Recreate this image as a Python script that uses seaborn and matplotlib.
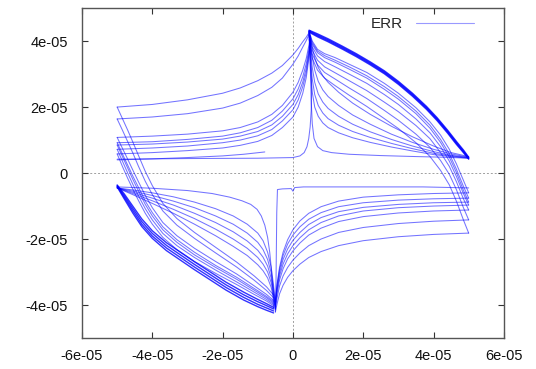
import numpy as np
import pandas as pd
import matplotlib
matplotlib.use("Agg")
import matplotlib.pyplot as plt
from matplotlib.lines import Line2D
import seaborn as sns

# All values are in units of 1e-5
UNIT = 1e-5

# --- rising branches from the left turning point up to the positive peak
R_X = [-5.0, -4.0, -3.0, -2.0, -1.5, -1.0, -0.6, -0.3, 0.0, 0.15, 0.28, 0.38, 0.45, 0.5]
R1 = [2.00, 2.08, 2.22, 2.42, 2.58, 2.80, 3.03, 3.26, 3.58, 3.78, 3.98, 4.12, 4.24, 4.32]
R2 = [1.64, 1.70, 1.80, 1.97, 2.12, 2.35, 2.60, 2.88, 3.30, 3.55, 3.82, 4.02, 4.18, 4.28]
R3 = [1.08, 1.12, 1.18, 1.28, 1.38, 1.55, 1.78, 2.05, 2.45, 2.75, 3.12, 3.48, 3.85, 4.15]
R4 = [0.92, 0.95, 1.02, 1.12, 1.22, 1.38, 1.60, 1.88, 2.25, 2.55, 2.92, 3.32, 3.72, 4.08]
R5 = [0.85, 0.88, 0.94, 1.03, 1.12, 1.26, 1.46, 1.72, 2.08, 2.38, 2.76, 3.18, 3.62, 4.02]
R6 = [0.72, 0.76, 0.82, 0.92, 1.00, 1.13, 1.32, 1.58, 1.92, 2.22, 2.62, 3.05, 3.55, 3.98]
R7 = [0.58, 0.62, 0.68, 0.76, 0.84, 0.96, 1.14, 1.38, 1.70, 2.00, 2.42, 2.90, 3.45, 3.92]

# last, unfinished sweep
P_X = [-5.0, -4.0, -3.0, -2.0, -1.4, -0.8]
P_Y = [0.40, 0.43, 0.47, 0.52, 0.57, 0.64]

# first sweep: flat run then sharp rise to the peak
SU_X = [-5.0, -3.0, -1.0, 0.0, 0.2, 0.32, 0.40, 0.45, 0.49, 0.52, 0.53, 0.52, 0.50, 0.47]
SU_Y = [0.42, 0.44, 0.45, 0.47, 0.52, 0.62, 0.80, 1.05, 1.40, 1.90, 2.50, 3.10, 3.70, 4.30]

# --- drops at the left turning point running into the lower-left lobe
D_X = [-5.0, -4.85, -4.7, -4.55, -4.4, -4.2, -4.0, -3.7, -3.3, -2.8, -2.2, -1.6, -1.1, -0.75, -0.55]
D1 = [2.00, 1.65, 1.30, 0.93, 0.55, 0.05, -0.38, -0.92, -1.38, -1.80, -2.25, -2.70, -3.12, -3.45, -3.70]
D2 = [1.64, 1.30, 0.95, 0.60, 0.22, -0.25, -0.65, -1.15, -1.58, -1.98, -2.42, -2.85, -3.25, -3.56, -3.78]
D3 = [1.08, 0.75, 0.42, 0.08, -0.25, -0.68, -1.05, -1.50, -1.90, -2.28, -2.68, -3.06, -3.42, -3.68, -3.86]
D4 = [0.92, 0.58, 0.24, -0.10, -0.42, -0.85, -1.20, -1.63, -2.02, -2.40, -2.80, -3.16, -3.50, -3.74, -3.90]
D5 = [0.85, 0.50, 0.15, -0.20, -0.53, -0.95, -1.30, -1.72, -2.10, -2.48, -2.86, -3.22, -3.55, -3.78, -3.94]
D6 = [0.72, 0.36, 0.00, -0.35, -0.68, -1.08, -1.42, -1.83, -2.20, -2.56, -2.94, -3.30, -3.61, -3.83, -3.98]
D7 = [0.58, 0.20, -0.16, -0.50, -0.82, -1.22, -1.55, -1.95, -2.32, -2.68, -3.04, -3.38, -3.68, -3.88, -4.02]

# --- lower-left lobe: outer envelope (a narrow band of passes)
LL_EDGE_X = [-5.0, -4.8, -4.55, -4.3, -4.0, -3.6, -3.2, -2.8, -2.35, -1.9, -1.4, -1.0, -0.75, -0.55]
LL_EDGE_1 = [-0.42, -0.78, -1.22, -1.62, -1.98, -2.35, -2.64, -2.93, -3.24, -3.55, -3.85, -4.05, -4.16, -4.24]
LL_EDGE_2 = [-0.40, -0.73, -1.15, -1.55, -1.91, -2.27, -2.56, -2.85, -3.16, -3.47, -3.77, -3.98, -4.09, -4.18]
LL_EDGE_3 = [-0.38, -0.68, -1.08, -1.47, -1.83, -2.19, -2.48, -2.77, -3.08, -3.39, -3.69, -3.90, -4.02, -4.12]
LL_EDGE_4 = [-0.36, -0.63, -1.01, -1.39, -1.75, -2.11, -2.40, -2.69, -3.00, -3.31, -3.61, -3.83, -3.96, -4.07]

# --- lower-left lobe: inner return curves
L2_X = [-5.0, -4.5, -4.0, -3.4, -2.8, -2.2, -1.7, -1.3, -1.0, -0.85, -0.72, -0.62, -0.55, -0.5]
L2A = [-0.45, -0.52, -0.60, -0.72, -0.88, -1.08, -1.30, -1.55, -1.82, -2.05, -2.40, -2.85, -3.40, -4.00]
L2B = [-0.45, -0.56, -0.68, -0.85, -1.05, -1.30, -1.55, -1.82, -2.10, -2.32, -2.62, -3.02, -3.50, -4.05]
L2C = [-0.45, -0.60, -0.76, -0.97, -1.22, -1.50, -1.78, -2.06, -2.34, -2.55, -2.82, -3.18, -3.60, -4.10]
L2D = [-0.45, -0.64, -0.84, -1.10, -1.38, -1.70, -2.00, -2.28, -2.56, -2.76, -3.00, -3.32, -3.70, -4.12]
L2E = [-0.45, -0.68, -0.92, -1.22, -1.55, -1.90, -2.22, -2.50, -2.78, -2.96, -3.18, -3.46, -3.80, -4.15]
LS_X = [-5.0, -4.0, -3.0, -2.3, -1.8, -1.45, -1.2, -1.02, -0.9, -0.8, -0.72, -0.66, -0.61, -0.57, -0.55]
LS_Y = [-0.42, -0.46, -0.53, -0.62, -0.73, -0.84, -0.95, -1.10, -1.30, -1.58, -1.95, -2.40, -2.95, -3.55, -4.10]

# --- upper-right lobe: outer envelope (several nearly coincident passes)
UR_EDGE_X = [0.46, 0.7, 1.0, 1.4, 1.8, 2.2, 2.6, 3.0, 3.4, 3.8, 4.1, 4.4, 4.65, 4.85, 5.0]
UR_EDGE_1 = [4.33, 4.22, 4.07, 3.85, 3.62, 3.37, 3.10, 2.78, 2.42, 2.02, 1.68, 1.30, 0.96, 0.70, 0.48]
UR_EDGE_2 = [4.31, 4.19, 4.04, 3.82, 3.59, 3.34, 3.07, 2.75, 2.39, 1.99, 1.65, 1.27, 0.93, 0.67, 0.46]
UR_EDGE_3 = [4.29, 4.16, 4.01, 3.79, 3.56, 3.31, 3.04, 2.72, 2.36, 1.96, 1.62, 1.24, 0.90, 0.64, 0.44]
UR_EDGE_4 = [4.27, 4.13, 3.98, 3.76, 3.53, 3.28, 3.01, 2.69, 2.33, 1.93, 1.59, 1.21, 0.87, 0.62, 0.42]

# --- upper-right lobe: branches that fall through the right turning point
I_X = [0.46, 0.55, 0.7, 0.9, 1.2, 1.6, 2.1, 2.6, 3.0, 3.5, 3.9, 4.2, 4.45, 4.65, 4.85, 5.0]
I1 = [4.30, 4.00, 3.75, 3.62, 3.50, 3.30, 3.05, 2.72, 2.42, 1.98, 1.55, 1.15, 0.72, 0.28, -0.22, -0.60]
I2 = [4.28, 3.95, 3.70, 3.56, 3.42, 3.22, 2.95, 2.62, 2.32, 1.88, 1.45, 1.02, 0.58, 0.12, -0.40, -0.76]
I3 = [4.26, 3.90, 3.65, 3.50, 3.36, 3.15, 2.88, 2.54, 2.24, 1.80, 1.36, 0.93, 0.48, 0.02, -0.52, -0.88]
I4 = [4.22, 3.82, 3.55, 3.38, 3.22, 3.00, 2.72, 2.38, 2.08, 1.64, 1.22, 0.80, 0.36, -0.10, -0.62, -0.97]
I5 = [4.18, 3.72, 3.42, 3.22, 3.04, 2.80, 2.50, 2.15, 1.86, 1.44, 1.04, 0.62, 0.20, -0.26, -0.78, -1.12]
I6 = [4.12, 3.60, 3.28, 3.05, 2.85, 2.58, 2.26, 1.90, 1.60, 1.18, 0.78, 0.38, -0.04, -0.50, -1.05, -1.42]
I7 = [4.05, 3.48, 3.12, 2.88, 2.65, 2.36, 2.02, 1.65, 1.35, 0.92, 0.50, 0.08, -0.36, -0.85, -1.42, -1.82]

# --- upper-right lobe: inner decay curves into the right corner
T_X = [0.46, 0.5, 0.55, 0.62, 0.72, 0.85, 1.0, 1.3, 1.7, 2.2, 2.8, 3.4, 4.0, 4.5, 5.0]
T2A = [4.30, 4.05, 3.80, 3.50, 3.20, 2.95, 2.75, 2.45, 2.12, 1.78, 1.42, 1.10, 0.82, 0.62, 0.50]
T2B = [4.28, 3.90, 3.52, 3.12, 2.78, 2.52, 2.32, 2.05, 1.76, 1.48, 1.18, 0.93, 0.72, 0.58, 0.48]
T2C = [4.25, 3.70, 3.20, 2.75, 2.40, 2.15, 1.96, 1.72, 1.48, 1.25, 1.02, 0.82, 0.65, 0.54, 0.47]
T2D = [4.22, 3.45, 2.85, 2.38, 2.05, 1.82, 1.65, 1.45, 1.26, 1.08, 0.90, 0.74, 0.60, 0.52, 0.46]
T2E = [4.20, 3.15, 2.45, 2.00, 1.72, 1.52, 1.38, 1.22, 1.07, 0.93, 0.79, 0.67, 0.56, 0.50, 0.45]
TS_X = [0.46, 0.48, 0.50, 0.52, 0.55, 0.60, 0.70, 0.85, 1.1, 1.6, 2.5, 3.5, 4.3, 5.0]
TS_Y = [4.33, 3.70, 3.00, 2.20, 1.50, 1.05, 0.80, 0.68, 0.62, 0.57, 0.53, 0.50, 0.48, 0.45]

# --- falling branches from the right turning point down to the negative peak
F_X = [5.0, 4.0, 3.0, 2.0, 1.3, 0.8, 0.45, 0.2, 0.0, -0.15, -0.28, -0.38, -0.45, -0.5]
F0 = [-0.60, -0.62, -0.66, -0.73, -0.85, -1.02, -1.22, -1.45, -1.72, -2.02, -2.40, -2.85, -3.35, -3.85]
F1 = [-0.76, -0.78, -0.82, -0.90, -1.02, -1.20, -1.40, -1.63, -1.88, -2.15, -2.50, -2.92, -3.40, -3.90]
F2 = [-0.88, -0.90, -0.95, -1.04, -1.17, -1.35, -1.56, -1.80, -2.04, -2.30, -2.62, -3.02, -3.48, -3.95]
F3 = [-0.97, -1.00, -1.05, -1.15, -1.30, -1.50, -1.72, -1.96, -2.20, -2.45, -2.76, -3.12, -3.55, -4.00]
F4 = [-1.12, -1.15, -1.21, -1.32, -1.47, -1.67, -1.88, -2.12, -2.36, -2.60, -2.90, -3.24, -3.64, -4.05]
F5 = [-1.42, -1.46, -1.53, -1.65, -1.80, -2.00, -2.20, -2.42, -2.64, -2.86, -3.12, -3.42, -3.78, -4.12]
F6 = [-1.82, -1.86, -1.93, -2.05, -2.20, -2.38, -2.56, -2.76, -2.96, -3.16, -3.40, -3.66, -3.96, -4.22]

# first sweep on the negative side: flat run then sharp drop to the peak
SL_X = [5.0, 3.7, 1.0, 0.3, 0.05, 0.0, -0.05, -0.3, -0.44, -0.46, -0.47, -0.48, -0.50]
SL_Y = [-0.45, -0.42, -0.42, -0.42, -0.44, -0.55, -0.47, -0.48, -0.50, -1.20, -2.20, -3.20, -4.20]

X_TICKS = [-6, -4, -2, 0, 2, 4, 6]
X_TICK_LABELS = ["-6e-05", "-4e-05", "-2e-05", "0", "2e-05", "4e-05", "6e-05"]
Y_TICKS = [-4, -2, 0, 2, 4]
Y_TICK_LABELS = ["-4e-05", "-2e-05", "0", "2e-05", "4e-05"]
SERIES_NAME = "ERR"

sweeps = (
    [(R_X, r) for r in (R1, R2, R3, R4, R5, R6, R7)]
    + [(P_X, P_Y), (SU_X, SU_Y)]
    + [(D_X, d) for d in (D1, D2, D3, D4, D5, D6, D7)]
    + [(L2_X, c) for c in (L2A, L2B, L2C, L2D, L2E)]
    + [(LS_X, LS_Y)]
    + [(I_X, c) for c in (I1, I2, I3, I4, I5, I6, I7)]
    + [(T_X, c) for c in (T2A, T2B, T2C, T2D, T2E)]
    + [(TS_X, TS_Y)]
    + [(F_X, f) for f in (F0, F1, F2, F3, F4, F5, F6)]
    + [(SL_X, SL_Y)]
)
envelopes = (
    [(LL_EDGE_X, e) for e in (LL_EDGE_1, LL_EDGE_2, LL_EDGE_3, LL_EDGE_4)]
    + [(UR_EDGE_X, e) for e in (UR_EDGE_1, UR_EDGE_2, UR_EDGE_3, UR_EDGE_4)]
)


def to_frame(parts):
    rows = []
    for k, (bx, by) in enumerate(parts):
        rows.append(pd.DataFrame({
            "x": np.asarray(bx) * UNIT,
            "y": np.asarray(by) * UNIT,
            "branch": k,
        }))
    return pd.concat(rows, ignore_index=True)


df_sweeps = to_frame(sweeps)
df_env = to_frame(envelopes)

sns.set_theme(style="white")
plt.rcParams["font.family"] = ["Liberation Sans", "DejaVu Sans"]

fig = plt.figure(figsize=(5.36, 3.69), dpi=100)
ax = fig.add_axes([0.153, 0.084, 0.787, 0.894])

line_color = "#0000ff"
sns.lineplot(data=df_sweeps, x="x", y="y", units="branch", estimator=None, sort=False,
             color=line_color, lw=0.75, alpha=0.55, legend=False, ax=ax)
sns.lineplot(data=df_env, x="x", y="y", units="branch", estimator=None, sort=False,
             color=line_color, lw=1.0, alpha=0.8, legend=False, ax=ax)

ax.axhline(0, color="#a0a0a0", lw=0.7, ls=(0, (2, 2)), zorder=0)
ax.axvline(0, color="#a0a0a0", lw=0.7, ls=(0, (2, 2)), zorder=0)

ax.set_xlim(-6 * UNIT, 6 * UNIT)
ax.set_ylim(-5 * UNIT, 5 * UNIT)
ax.set_xticks(np.asarray(X_TICKS) * UNIT)
ax.set_xticklabels(X_TICK_LABELS)
ax.set_yticks(np.asarray(Y_TICKS) * UNIT)
ax.set_yticklabels(Y_TICK_LABELS)
ax.set_xlabel("")
ax.set_ylabel("")
ax.tick_params(axis="both", which="both", direction="in", length=4, width=0.8,
               colors="#333333", labelcolor="#111111", labelsize=10.5,
               top=True, right=True, bottom=True, left=True)
ax.tick_params(axis="y", pad=10)
ax.tick_params(axis="x", pad=8)
for s in ax.spines.values():
    s.set_color("#555555")
    s.set_linewidth(1.0)
    s.set_visible(True)

handle = Line2D([0], [0], color=line_color, lw=0.8, alpha=0.4)
ax.legend([handle], [SERIES_NAME], loc="upper right", frameon=False,
          markerfirst=False, handlelength=3.8, fontsize=11,
          borderaxespad=0.2, bbox_to_anchor=(0.95, 1.0))

fig.savefig("out.png", dpi=100)
